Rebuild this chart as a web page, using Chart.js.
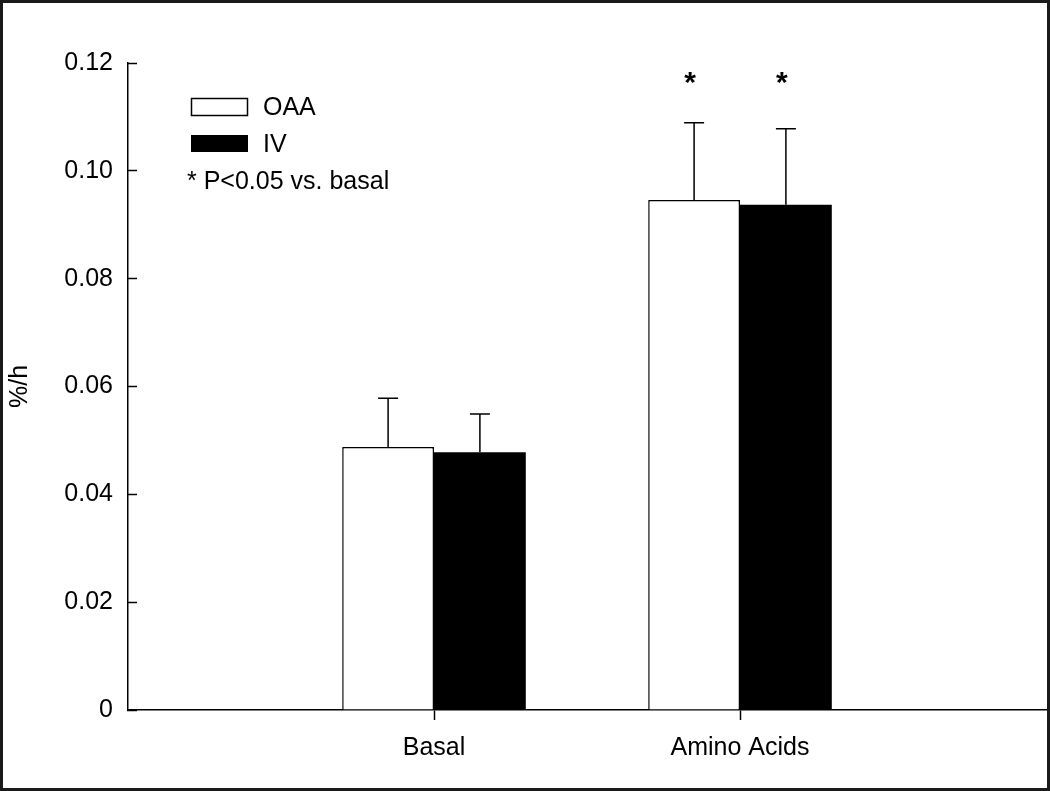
<!DOCTYPE html>
<html lang="en">
<head>
    <meta charset="UTF-8">
    <title>%/h by condition</title>
    <script src="https://cdn.jsdelivr.net/npm/chart.js"></script>
    <style>
        body {
            margin: 0;
            background: #fff;
        }

        .frame {
            width: 1050px;
            height: 791px;
            box-sizing: border-box;
            border: 3px solid #1a1a1a;
            background: #fff;
        }

        canvas {
            display: block;
        }
    </style>
</head>
<body>

<div class="frame">
    <canvas id="rateChart" width="1044" height="785"></canvas>
</div>

<script>
    // values
    const categories = ['Basal', 'Amino Acids'];
    const oaaValues = [0.0488, 0.0946];
    const oaaErrors = [0.0090, 0.0143];
    const ivValues = [0.0478, 0.0937];
    const ivErrors = [0.0071, 0.0141];
    const significant = [false, true];
    const yTicks = [0, 0.02, 0.04, 0.06, 0.08, 0.10, 0.12];

    // empty slots either side so the groups sit at 1/3 and 2/3 of the axis
    const labels = ['', ...categories, ''];
    const pad = arr => [null, ...arr, null];

    Chart.defaults.font.family = '"Liberation Sans", Arial, sans-serif';
    Chart.defaults.color = '#000';

    const errorBars = {
        id: 'errorBars',
        afterDatasetsDraw(chart) {
            const ctx = chart.ctx;
            const y = chart.scales.y;
            ctx.save();
            ctx.strokeStyle = '#000';
            ctx.lineWidth = 1.5;
            chart.data.datasets.forEach((ds, i) => {
                const meta = chart.getDatasetMeta(i);
                meta.data.forEach((bar, j) => {
                    const v = ds.data[j];
                    if (v === null) return;
                    const top = y.getPixelForValue(v + ds.errors[j]);
                    ctx.beginPath();
                    ctx.moveTo(bar.x, bar.y);
                    ctx.lineTo(bar.x, top);
                    ctx.moveTo(bar.x - 10, top);
                    ctx.lineTo(bar.x + 10, top);
                    ctx.stroke();

                    if (ds.stars[j]) {
                        ctx.fillStyle = '#000';
                        ctx.font = 'bold 30px "Liberation Sans", Arial, sans-serif';
                        ctx.textAlign = 'center';
                        ctx.textBaseline = 'alphabetic';
                        ctx.fillText('*', bar.x - 4, y.getPixelForValue(0.1147));
                    }
                });
            });
            ctx.restore();
        }
    };

    const keyBox = {
        id: 'keyBox',
        afterDraw(chart) {
            const ctx = chart.ctx;
            ctx.save();
            ctx.lineWidth = 1.5;
            ctx.strokeStyle = '#000';
            ctx.fillStyle = '#fff';
            ctx.fillRect(188, 95, 57, 17);
            ctx.strokeRect(188.5, 95.5, 56, 17);
            ctx.fillStyle = '#000';
            ctx.fillRect(188, 132, 57, 17);

            ctx.font = '25px "Liberation Sans", Arial, sans-serif';
            ctx.textAlign = 'left';
            ctx.textBaseline = 'middle';
            ctx.fillText(chart.data.datasets[0].label, 260, 105);
            ctx.fillText(chart.data.datasets[1].label, 260, 142);
            ctx.fillText('* P<0.05 vs. basal', 184, 179);
            ctx.restore();
        }
    };

    new Chart(document.getElementById('rateChart').getContext('2d'), {
        type: 'bar',
        data: {
            labels: labels,
            datasets: [{
                label: 'OAA',
                data: pad(oaaValues),
                errors: pad(oaaErrors),
                stars: pad(significant),
                backgroundColor: '#fff',
                borderColor: '#000',
                borderWidth: 1.5,
                categoryPercentage: 0.6,
                barPercentage: 1.0
            }, {
                label: 'IV',
                data: pad(ivValues),
                errors: pad(ivErrors),
                stars: pad(significant),
                backgroundColor: '#000',
                borderColor: '#000',
                borderWidth: 0,
                categoryPercentage: 0.6,
                barPercentage: 1.0
            }]
        },
        options: {
            responsive: false,
            animation: false,
            devicePixelRatio: 1,
            layout: {padding: {top: 60, right: 1, bottom: 0, left: 0}},
            plugins: {
                legend: {display: false},
                tooltip: {enabled: false}
            },
            scales: {
                x: {
                    offset: false,
                    grid: {
                        offset: false,
                        drawOnChartArea: false,
                        tickLength: 10,
                        tickWidth: 1.5,
                        tickColor: c => (c.index === 0 || c.index === labels.length - 1) ? 'rgba(0,0,0,0)' : '#000'
                    },
                    border: {color: '#000', width: 1.5},
                    ticks: {
                        font: {size: 25},
                        padding: 13,
                        autoSkip: false,
                        maxRotation: 0
                    },
                    afterFit: s => {
                        s.height = 78;
                        // end slots have no label, so no side padding is needed
                        s.paddingLeft = 0;
                        s.paddingRight = 0;
                    }
                },
                y: {
                    min: 0,
                    max: 0.12,
                    grid: {
                        drawOnChartArea: false,
                        tickLength: -9,
                        tickWidth: 1.5,
                        tickColor: '#000'
                    },
                    border: {color: '#000', width: 1.5},
                    ticks: {
                        stepSize: 0.02,
                        font: {size: 25},
                        padding: 24,
                        callback: v => {
                            const t = yTicks.find(k => Math.abs(k - v) < 1e-9);
                            return t === 0 ? '0' : t.toFixed(2);
                        }
                    },
                    title: {
                        display: true,
                        text: '%/h',
                        font: {size: 25},
                        padding: {top: 2, bottom: 0}
                    },
                    afterFit: s => { s.width = 125; }
                }
            }
        },
        plugins: [errorBars, keyBox]
    });
</script>

</body>
</html>
